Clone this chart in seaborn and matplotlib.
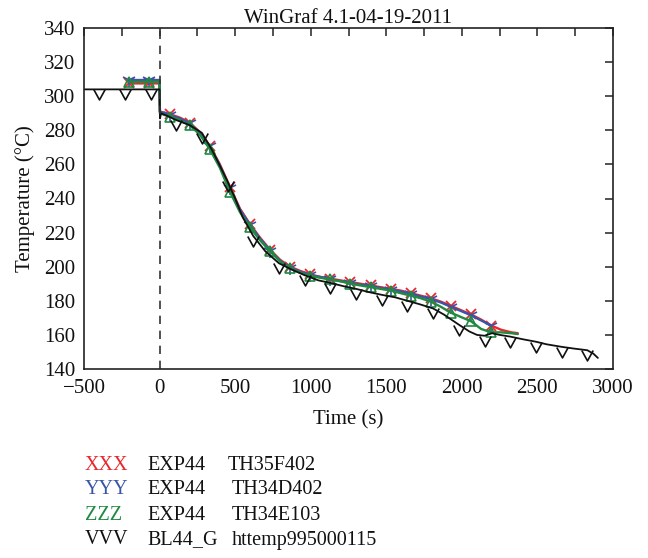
import numpy as np
import pandas as pd
import matplotlib
matplotlib.use("Agg")
import matplotlib.pyplot as plt
from matplotlib.path import Path
from matplotlib.ticker import MultipleLocator, FuncFormatter
import seaborn as sns

# ---------------- data ----------------
t_col = [-200, -67, 0, 2, 66, 133, 199, 266, 332, 399, 465, 532, 598, 665, 731, 798,
         864, 931, 997, 1063, 1130, 1196, 1263, 1329, 1396, 1462, 1529, 1595, 1662,
         1728, 1795, 1861, 1928, 1994, 2061, 2127, 2194, 2260, 2327, 2370]

red_T = [307.5, 307.5, 307.5, 291, 289.5, 287.5, 284.5, 279, 271, 260, 247, 234, 225,
         217, 210, 204, 200, 197.5, 195.5, 194, 193, 192, 191, 190, 189, 188, 187, 186,
         184.5, 183, 181.5, 179.5, 177, 174.5, 172, 169, 165.5, 163, 161.5, 161]

blue_T = [309.5, 309.5, 309.5, 291, 289, 287, 284, 278.5, 270.5, 259.5, 246, 233.5,
          224.5, 216.5, 209.5, 203.5, 199.5, 197, 195, 194, 192.5, 191.5, 190.5, 189.5,
          188.5, 187.5, 186.5, 185.5, 184, 182.5, 181, 179, 176.5, 174, 171.5, 168.5, 165.5]

green_T = [308.5, 308.5, 308.5, 290, 288, 286, 283, 277.5, 269, 258, 244, 232, 223,
           215.5, 209, 203, 199, 196.5, 194.5, 193.5, 192.5, 191.5, 190, 189, 188, 187,
           186, 184.5, 183, 181.5, 179.5, 176.5, 173, 170.5, 168, 163.5, 161.5, 161.5,
           161, 160.5]

col_marks = [-200, -67, 66, 199, 332, 465, 598, 731, 864, 997, 1130, 1263, 1396,
             1529, 1662, 1795, 1928, 2061, 2194]

t_blk = [-500, -400, -230, -60, 0, 3, 10, 50, 110, 200, 280, 350, 400, 450, 500, 550,
         620, 700, 790, 870, 960, 1050, 1130, 1220, 1300, 1390, 1470, 1560, 1640, 1720,
         1810, 1880, 1980, 2050, 2100, 2150, 2200, 2250, 2320, 2400, 2490, 2560, 2660,
         2740, 2830, 2870, 2900]
blk_T = [304, 304, 304, 304, 304, 287, 290, 288.5, 286, 283, 278.5, 268, 259, 250, 240,
         229, 218, 209, 202, 198.5, 195, 192, 190.5, 188.5, 187, 185, 183.5, 182, 180,
         178, 175.5, 172, 166, 162, 160, 159.5, 161, 160, 159, 157.5, 156, 154.5, 153,
         152, 151, 149, 146.5]
blk_marks = [-400, -230, -60, 110, 280, 450, 620, 790, 960, 1130, 1300, 1470, 1640,
             1810, 1980, 2150, 2320, 2490, 2660, 2830]

legend_keys = ["XXX", "YYY", "ZZZ", "VVV"]
legend_src = ["EXP44", "EXP44", "EXP44", "BL44_G"]
legend_names = ["TH35F402", "TH34D402", "TH34E103", "httemp995000115"]

title = "WinGraf 4.1-04-19-2011"
x_label = "Time (s)"
y_label = "Temperature (°C)"

# ---------------- style ----------------
sns.set_theme(style="white")
plt.rcParams["font.family"] = ["Liberation Serif", "DejaVu Serif"]

RED = "#e8282c"
BLUE = "#3a55a8"
GREEN = "#1f8a40"
BLACK = "#111111"
FS = 15
LFS = 14.5

fig = plt.figure(figsize=(6.48, 5.58), dpi=100)
ax = fig.add_axes([84 / 648, 1 - 369 / 558, (613 - 84) / 648, (369 - 28) / 558])

v_path = Path([(-0.55, 0.0), (0.0, -1.0), (0.55, 0.0)])


def marks_idx(t, marks):
    return [i for i, v in enumerate(t) if v in marks]


series = [
    ("XXX", t_col, red_T, RED, "x", 7.5, 1.3),
    ("YYY", t_col[:len(blue_T)], blue_T, BLUE, "1", 10, 1.2),
    ("ZZZ", t_col, green_T, GREEN, "^", 7.5, 1.2),
]

for name, t, T, c, m, ms, lw in series:
    df = pd.DataFrame({"t": t, "T": T})
    sns.lineplot(data=df, x="t", y="T", ax=ax, color=c, estimator=None, sort=False,
                 lw=1.7, marker=m, markersize=ms, markeredgewidth=lw,
                 markerfacecolor="none", markeredgecolor=c,
                 markevery=marks_idx(t, col_marks))

dfk = pd.DataFrame({"t": t_blk, "T": blk_T})
sns.lineplot(data=dfk, x="t", y="T", ax=ax, color=BLACK, estimator=None, sort=False,
             lw=1.3, marker=v_path, markersize=15, markeredgewidth=1.2,
             markerfacecolor="none", markeredgecolor=BLACK,
             markevery=marks_idx(t_blk, blk_marks))

ax.axvline(0, color="#333333", lw=1.2, ls=(0, (5, 4)))

ax.set_xlim(-500, 3000)
ax.set_ylim(140, 340)
ax.xaxis.set_major_locator(MultipleLocator(500))
ax.xaxis.set_minor_locator(MultipleLocator(250))
ax.yaxis.set_major_locator(MultipleLocator(20))
ax.xaxis.set_major_formatter(FuncFormatter(lambda v, p: f"{int(v)}".replace("-", "\u2212")))
ax.tick_params(axis="both", which="both", direction="in", top=True, right=True,
               length=6, width=1.1, color="#222222", labelsize=FS)
ax.tick_params(axis="x", pad=7)
ax.tick_params(axis="y", pad=6)
for s in ax.spines.values():
    s.set_color("#222222")
    s.set_linewidth(1.2)

ax.set_xlabel(x_label, fontsize=FS, labelpad=9, color="#111111")
ax.set_ylabel(y_label, fontsize=FS, labelpad=7, color="#111111")
ax.set_title(title, fontsize=FS, pad=3.5, color="#111111")
ax.tick_params(labelcolor="#111111")

key_colors = [RED, BLUE, GREEN, BLACK]
ys = [465, 490, 515, 540]
name_x = [228, 232, 232, 232]
for k, s, n, c, y, nx in zip(legend_keys, legend_src, legend_names, key_colors, ys, name_x):
    fy = 1 - y / 558
    fig.text(85 / 648, fy, k, color=c, fontsize=LFS, va="center", ha="left")
    fig.text(147 / 648, fy, s, color="#111111", fontsize=LFS, va="center", ha="left")
    fig.text(nx / 648, fy, n, color="#111111", fontsize=LFS, va="center", ha="left")

fig.savefig("out.png", dpi=100)
